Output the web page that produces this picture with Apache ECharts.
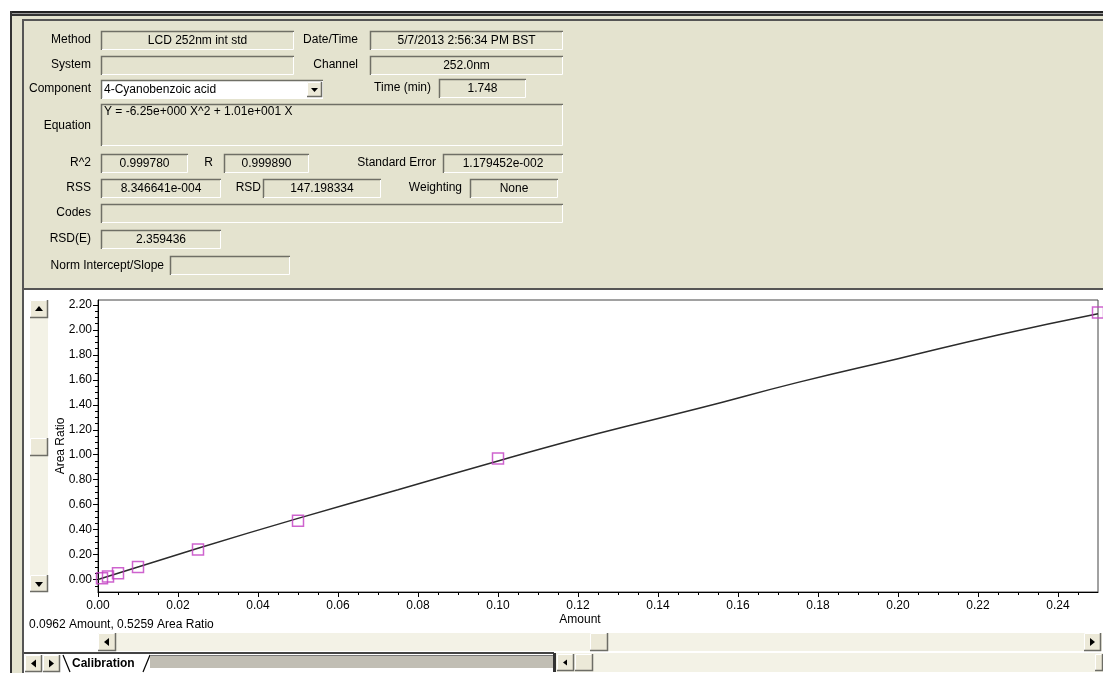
<!DOCTYPE html>
<html>
<head>
<meta charset="utf-8">
<script src="https://cdn.jsdelivr.net/npm/echarts@6/dist/echarts.min.js"></script>
<style>
    html, body { margin: 0; padding: 0; background: #fff; }
    #chart { width: 1103px; height: 673px; }
</style>
</head>
<body>
<div id="chart"></div>
<script>
// calibration standards (Amount vs Area Ratio)
const amount = [0.001, 0.0025, 0.005, 0.01, 0.025, 0.05, 0.10, 0.25];
const areaRatio = [0.01, 0.025, 0.05, 0.10, 0.24, 0.47, 0.97, 2.14];

// fitted curve
const fitAmount = [0, 0.025, 0.05, 0.075, 0.10, 0.125, 0.15, 0.175, 0.20, 0.225, 0.25];
const fitRatio = [0, 0.25, 0.49, 0.72, 0.95, 1.17, 1.37, 1.58, 1.77, 1.96, 2.13];

// tick labels
const xTicks = [0, 0.02, 0.04, 0.06, 0.08, 0.10, 0.12, 0.14, 0.16, 0.18, 0.20, 0.22, 0.24];
const xMinorTicks = [0.005, 0.01, 0.015, 0.025, 0.03, 0.035, 0.045, 0.05, 0.055, 0.065, 0.07, 0.075,
    0.085, 0.09, 0.095, 0.105, 0.11, 0.115, 0.125, 0.13, 0.135, 0.145, 0.15, 0.155, 0.165, 0.17, 0.175,
    0.185, 0.19, 0.195, 0.205, 0.21, 0.215, 0.225, 0.23, 0.235, 0.245];
const yTicks = [0, 0.2, 0.4, 0.6, 0.8, 1.0, 1.2, 1.4, 1.6, 1.8, 2.0, 2.2];
const yMinorTicks = [-0.05, 0.05, 0.1, 0.15, 0.25, 0.3, 0.35, 0.45, 0.5, 0.55, 0.65, 0.7, 0.75, 0.85, 0.9, 0.95,
    1.05, 1.1, 1.15, 1.25, 1.3, 1.35, 1.45, 1.5, 1.55, 1.65, 1.7, 1.75, 1.85, 1.9, 1.95, 2.05, 2.1, 2.15];

const BEIGE = '#e4e3cf';
const TRACK = '#f3f2e6';
const FONT = '12px "Liberation Sans", Arial, sans-serif';

let g = [];

function rect (x, y, w, h, fill) {
    g.push({ type: 'rect', shape: { x: x, y: y, width: w, height: h }, style: { fill: fill } });
}

function poly (points, stroke, width) {
    g.push({ type: 'polyline', shape: { points: points }, style: { stroke: stroke, lineWidth: width || 1, fill: null } });
}

function tri (points) {
    g.push({ type: 'polygon', shape: { points: points }, style: { fill: '#000' } });
}

function text (str, x, y, align, font) {
    g.push({
        type: 'text', x: x, y: y,
        style: {
            text: str, font: font || FONT, fill: '#000',
            align: align || 'left', verticalAlign: 'middle',
            textAlign: align || 'left', textVerticalAlign: 'middle'
        }
    });
}

// sunken edit box
function field (x, y, w, h, value, align, fill) {
    rect(x, y, w, h, fill || BEIGE);
    poly([[x + 0.5, y + h], [x + 0.5, y + 0.5], [x + w, y + 0.5]], '#6f6f66', 1.5);
    poly([[x + w - 0.5, y + 1], [x + w - 0.5, y + h - 0.5], [x + 1, y + h - 0.5]], '#ffffff', 1);
    if (value) {
        if (align == 'left') text(value, x + 3, y + h / 2, 'left');
        else if (align == 'top') text(value, x + 3, y + 8, 'left');
        else text(value, x + w / 2, y + h / 2, 'center');
    }
}

// raised button
function button (x, y, w, h) {
    rect(x, y, w, h, '#ece9d8');
    poly([[x + 0.5, y + h], [x + 0.5, y + 0.5], [x + w, y + 0.5]], '#ffffff', 1);
    poly([[x + w - 0.5, y], [x + w - 0.5, y + h - 0.5], [x, y + h - 0.5]], '#6d6d66', 1.5);
}

// ---- window frame ----
rect(11, 12, 1092, 278, BEIGE);
rect(12, 12, 10, 661, BEIGE);
rect(10, 11, 1093, 2, '#222');
rect(10, 13, 1093, 1, '#999');
rect(10, 14, 1093, 2, '#333');
rect(22, 19, 1081, 2, '#555');
rect(10, 11, 2, 662, '#333');
rect(22, 19, 2, 654, '#555');
rect(22, 288, 1081, 2, '#555');

// ---- header fields ----
text('Method', 91, 40, 'right');
field(101, 31, 193, 19, 'LCD 252nm int std');
text('Date/Time', 358, 40, 'right');
field(370, 31, 193, 19, '5/7/2013 2:56:34 PM BST');

text('System', 91, 65, 'right');
field(101, 56, 193, 19, '');
text('Channel', 358, 65, 'right');
field(370, 56, 193, 19, '252.0nm');

text('Component', 91, 89, 'right');
field(101, 80, 222, 19, '4-Cyanobenzoic acid', 'left', '#ffffff');
button(307, 82, 15, 15);
tri([[311, 88], [318, 88], [314.5, 92]]);
text('Time (min)', 431, 88, 'right');
field(439, 79, 87, 19, '1.748');

text('Equation', 91, 126, 'right');
field(101, 104, 462, 42, 'Y = -6.25e+000 X^2 + 1.01e+001 X', 'top');

text('R^2', 91, 163, 'right');
field(101, 154, 87, 19, '0.999780');
text('R', 213, 163, 'right');
field(224, 154, 85, 19, '0.999890');
text('Standard Error', 436, 163, 'right');
field(443, 154, 120, 19, '1.179452e-002');

text('RSS', 91, 188, 'right');
field(101, 179, 120, 19, '8.346641e-004');
text('RSD', 261, 188, 'right');
field(263, 179, 118, 19, '147.198334');
text('Weighting', 462, 188, 'right');
field(470, 179, 88, 19, 'None');

text('Codes', 91, 213, 'right');
field(101, 204, 462, 19, '');

text('RSD(E)', 91, 239, 'right');
field(101, 230, 120, 19, '2.359436');

text('Norm Intercept/Slope', 164, 266, 'right');
field(170, 256, 120, 19, '');

// ---- vertical scrollbar ----
rect(30, 300, 18, 292, TRACK);
button(30, 300, 18, 18);
tri([[35, 311], [43, 311], [39, 306]]);
button(30, 438, 18, 18);
button(30, 575, 18, 17);
tri([[35, 582], [43, 582], [39, 587]]);

// ---- status + axis title ----
text('0.0962 Amount, 0.5259 Area Ratio', 29, 625, 'left');
text('Amount', 580, 620, 'center');

// ---- horizontal scrollbar ----
rect(98, 633, 1004, 18, TRACK);
button(98, 633, 18, 18);
tri([[104, 642], [109, 638], [109, 646]]);
button(590, 633, 18, 18);
button(1084, 633, 17, 18);
tri([[1095, 642], [1090, 638], [1090, 646]]);

// ---- tab strip ----
rect(24, 652, 1079, 21, '#ffffff');
rect(24, 652, 530, 2, '#444');
button(25, 655, 17, 17);
tri([[31, 663.5], [36, 659.5], [36, 667.5]]);
button(43, 655, 17, 17);
tri([[54, 663.5], [49, 659.5], [49, 667.5]]);
poly([[63, 655], [70, 672]], '#000', 1.2);
text('Calibration', 72, 664, 'left', 'bold 12px "Liberation Sans", Arial, sans-serif');
poly([[143, 672], [150, 655]], '#000', 1.2);
rect(150, 655, 403, 13, '#c1beb4');
rect(150, 655, 403, 1, '#777');
rect(553, 653, 3, 19, '#333');
rect(556, 653, 547, 19, TRACK);
button(557, 654, 17, 17);
tri([[563, 662.5], [567, 659.5], [567, 665.5]]);
button(575, 654, 18, 17);
button(1095, 654, 8, 17);

let chart = echarts.init(document.getElementById('chart'));
chart.setOption({
    backgroundColor: '#ffffff',
    animation: false,
    grid: {
        left: 98, right: 5, top: 300, bottom: 81,
        show: true, backgroundColor: '#ffffff', borderColor: '#444', borderWidth: 1
    },
    xAxis: [
        {
            type: 'value', min: 0, max: 0.25, position: 'bottom',
            axisLine: { onZero: false, lineStyle: { color: '#000', width: 1 } },
            axisTick: { customValues: xTicks, length: 5, lineStyle: { color: '#000' } },
            axisLabel: {
                customValues: xTicks, margin: 8, color: '#000',
                fontSize: 12, fontFamily: 'Liberation Sans',
                formatter: v => v.toFixed(2)
            },
            splitLine: { show: false }
        },
        {
            type: 'value', min: 0, max: 0.25, position: 'bottom',
            axisLine: { show: false, onZero: false },
            axisTick: { customValues: xMinorTicks, length: 3, lineStyle: { color: '#000' } },
            axisLabel: { show: false },
            splitLine: { show: false }
        }
    ],
    yAxis: [
        {
            type: 'value', min: -0.1, max: 2.24, position: 'left',
            name: 'Area Ratio', nameLocation: 'middle', nameGap: 31, nameRotate: 90,
            nameMoveOverlap: false,
            nameTextStyle: { color: '#000', fontSize: 12, fontFamily: 'Liberation Sans' },
            axisLine: { onZero: false, lineStyle: { color: '#000', width: 1 } },
            axisTick: { customValues: yTicks, length: 5, lineStyle: { color: '#000' } },
            axisLabel: {
                customValues: yTicks, margin: 6, color: '#000',
                fontSize: 12, fontFamily: 'Liberation Sans',
                formatter: v => v.toFixed(2)
            },
            splitLine: { show: false }
        },
        {
            type: 'value', min: -0.1, max: 2.24, position: 'left',
            axisLine: { show: false, onZero: false },
            axisTick: { customValues: yMinorTicks, length: 3, lineStyle: { color: '#000' } },
            axisLabel: { show: false },
            splitLine: { show: false }
        }
    ],
    series: [
        {
            name: 'Fit',
            type: 'line',
            smooth: true,
            symbol: 'none',
            lineStyle: { color: '#2b2b2b', width: 1.5 },
            data: fitAmount.map((x, i) => [x, fitRatio[i]]),
            z: 2
        },
        {
            name: 'Standards',
            type: 'scatter',
            symbol: 'rect',
            symbolSize: 11,
            clip: false,
            itemStyle: { color: 'rgba(0,0,0,0)', borderColor: '#c23cc2', borderWidth: 1.5 },
            data: amount.map((x, i) => [x, areaRatio[i]]),
            z: 3
        }
    ],
    graphic: { elements: g }
});
</script>
</body>
</html>
